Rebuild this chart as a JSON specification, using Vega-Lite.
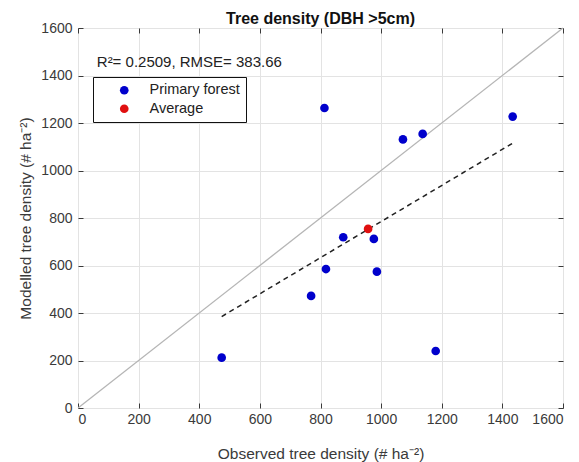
{
  "$schema": "https://vega.github.io/schema/vega-lite/v6.json",
  "width": 485,
  "height": 380,
  "autosize": {"type": "none"},
  "padding": {"left": 78, "top": 28, "right": 17, "bottom": 54},
  "background": "white",
  "config": {
    "font": "Liberation Sans",
    "view": {"stroke": "#3a3a3a", "strokeWidth": 1},
    "axis": {
      "grid": true,
      "gridColor": "#e3e3e3",
      "gridWidth": 1,
      "domain": false,
      "tickColor": "#3a3a3a",
      "tickSize": -5,
      "labelFontSize": 14,
      "labelColor": "#3a3a3a",
      "titleFontSize": 15.5,
      "titleFontWeight": "normal",
      "titleColor": "#3a3a3a",
      "format": "d"
    }
  },
  "title": {
    "text": "Tree density (DBH >5cm)",
    "fontSize": 16,
    "fontWeight": "bold",
    "color": "#111111",
    "frame": "group",
    "baseline": "bottom",
    "offset": -22
  },
  "resolve": {"axis": {"x": "independent", "y": "independent"}},
  "datasets": {
    "points": [
      {"obs": 813, "mod": 1263, "type": "Primary forest"},
      {"obs": 1434, "mod": 1227, "type": "Primary forest"},
      {"obs": 1072, "mod": 1131, "type": "Primary forest"},
      {"obs": 1137, "mod": 1154, "type": "Primary forest"},
      {"obs": 875, "mod": 719, "type": "Primary forest"},
      {"obs": 976, "mod": 712, "type": "Primary forest"},
      {"obs": 818, "mod": 585, "type": "Primary forest"},
      {"obs": 986, "mod": 574, "type": "Primary forest"},
      {"obs": 769, "mod": 472, "type": "Primary forest"},
      {"obs": 474, "mod": 212, "type": "Primary forest"},
      {"obs": 1180, "mod": 240, "type": "Primary forest"},
      {"obs": 957, "mod": 754, "type": "Average"}
    ],
    "identity": [
      {"obs": 0, "mod": 0},
      {"obs": 1600, "mod": 1600}
    ],
    "fit": [
      {"obs": 474, "mod": 385},
      {"obs": 1434, "mod": 1115}
    ],
    "note": [
      {"obs": 62, "mod": 1455, "label": "R²= 0.2509, RMSE= 383.66"}
    ]
  },
  "layer": [
    {
      "data": {"name": "identity"},
      "mark": {"type": "line", "color": "#b5b5b5", "strokeWidth": 1.3},
      "encoding": {
        "x": {"field": "obs", "type": "quantitative", "scale": {"domain": [0, 1600], "nice": false}, "axis": {"values": [0,200,400,600,800,1000,1200,1400,1600], "title": "Observed tree density (# ha⁻²)", "labelPadding": 9, "titlePadding": 20}},
        "y": {"field": "mod", "type": "quantitative", "scale": {"domain": [0, 1600], "nice": false}, "axis": {"values": [0,200,400,600,800,1000,1200,1400,1600], "title": "Modelled tree density (# ha⁻²)", "labelPadding": 11, "titlePadding": 7}}
      }
    },
    {
      "data": {"name": "fit"},
      "mark": {"type": "line", "color": "#222222", "strokeWidth": 1.5, "strokeDash": [5, 4]},
      "encoding": {
        "x": {"field": "obs", "type": "quantitative", "axis": {"orient": "top", "values": [0,200,400,600,800,1000,1200,1400,1600], "labels": false, "grid": false, "title": null}},
        "y": {"field": "mod", "type": "quantitative", "axis": {"orient": "right", "values": [0,200,400,600,800,1000,1200,1400,1600], "labels": false, "grid": false, "title": null}}
      }
    },
    {
      "data": {"name": "points"},
      "mark": {"type": "point", "filled": true, "opacity": 1, "size": 75, "shape": "circle"},
      "encoding": {
        "x": {"field": "obs", "type": "quantitative", "axis": null},
        "y": {"field": "mod", "type": "quantitative", "axis": null},
        "color": {
          "field": "type",
          "type": "nominal",
          "scale": {"domain": ["Primary forest", "Average"], "range": ["#0000cc", "#e01010"]},
          "legend": {
            "title": null,
            "orient": "none",
            "legendX": 15,
            "legendY": 49,
            "fillColor": "white",
            "strokeColor": "#111111",
            "padding": 6,
            "symbolOffset": 18,
            "symbolSize": 75,
            "symbolType": "circle",
            "labelFontSize": 14.5,
            "labelColor": "#222222",
            "labelOffset": 18,
            "rowPadding": 3.5,
            "labelLimit": 200,
            "symbolStrokeWidth": 0
          }
        }
      }
    },
    {
      "data": {"name": "note"},
      "mark": {"type": "text", "align": "left", "baseline": "middle", "fontSize": 15, "color": "#222222"},
      "encoding": {
        "x": {"field": "obs", "type": "quantitative", "axis": null},
        "y": {"field": "mod", "type": "quantitative", "axis": null},
        "text": {"field": "label"}
      }
    }
  ]
}
